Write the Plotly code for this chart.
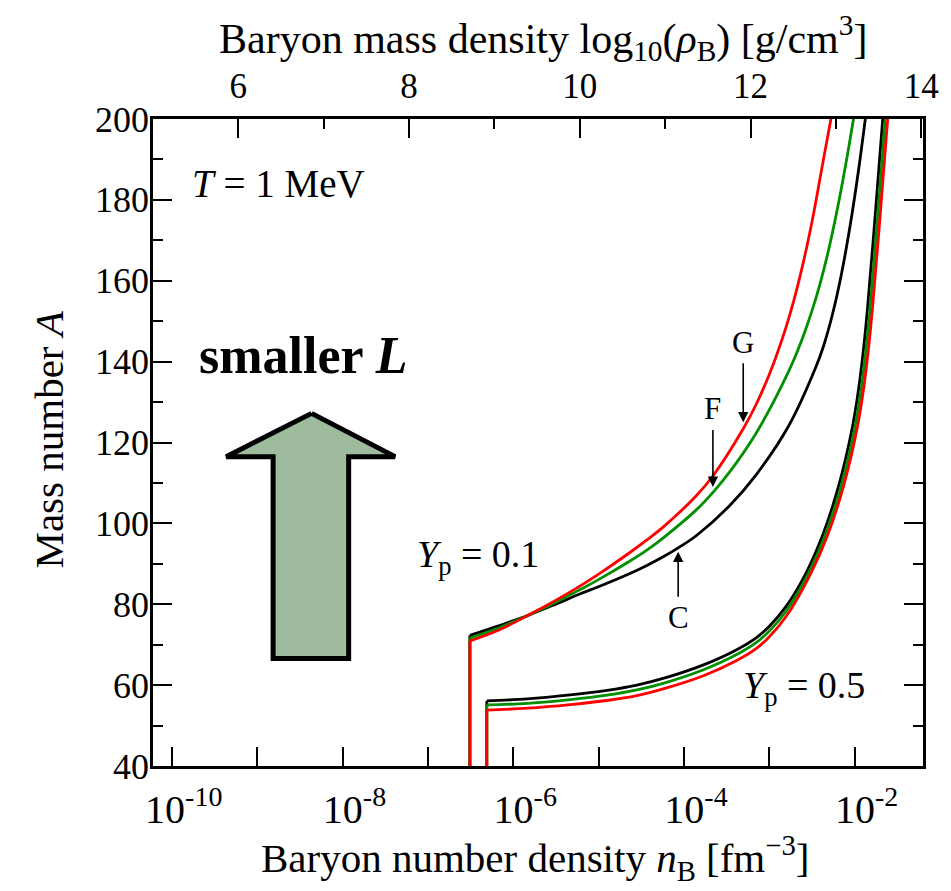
import plotly.graph_objects as go

# ---------------- data ----------------
# log10 of baryon number density n_B [fm^-3] and mass number A
# Y_p = 0.1 curves (C = black, F = green, G = red)
yp01_C_logn = [-6.508, -6.182, -5.832, -5.483, -5.215, -5.017, -4.633, -4.435, -4.238, -4.063, -3.853, -3.469,
               -3.155, -2.771, -2.456, -2.363, -2.258, -2.154, -2.049, -1.956, -1.874]
yp01_C_A    = [72.3, 74.6, 77.2, 80.2, 82.6, 84.2, 87.6, 89.6, 91.8, 94.0, 97.0, 104.3,
               112.0, 124.2, 138.6, 144.0, 151.9, 161.8, 174.2, 187.2, 200.3]
yp01_F_logn = [-6.508, -6.182, -5.832, -5.483, -5.215, -5.017, -4.633, -4.435, -4.238, -3.853, -3.655, -3.469,
               -3.155, -2.771, -2.631, -2.456, -2.340, -2.224, -2.107, -2.002]
yp01_F_A    = [71.6, 74.05, 77.2, 80.7, 83.65, 85.9, 90.7, 93.4, 96.5, 103.4, 107.8, 112.6,
               122.3, 137.7, 144.7, 155.6, 164.6, 175.6, 188.5, 201.6]
yp01_G_logn = [-6.508, -6.182, -5.832, -5.483, -5.215, -5.017, -4.633, -4.435, -4.238, -3.853, -3.655, -3.306,
               -3.155, -3.003, -2.922, -2.806, -2.712, -2.596, -2.491, -2.386, -2.270]
yp01_G_A    = [70.9, 73.5, 77.2, 81.2, 84.55, 87.2, 92.8, 95.9, 99.2, 106.9, 111.9, 123.4,
               129.4, 136.7, 141.2, 148.4, 155.2, 165.1, 175.6, 187.7, 201.0]

# Y_p = 0.5 curves
yp05_C_logn = [-6.310, -5.832, -5.332, -4.901, -4.552, -4.203, -3.772, -3.388, -3.155, -3.003, -2.806, -2.573,
               -2.375, -2.189, -2.026, -1.956, -1.898, -1.851, -1.758, -1.665]
yp05_C_A    = [56.1, 56.6, 57.6, 58.7, 60.0, 61.9, 65.0, 68.7, 71.7, 74.5, 79.4, 87.6,
               97.1, 109.2, 123.9, 133.0, 142.9, 153.0, 176.7, 201.8]
yp05_F_logn = [-6.310, -5.832, -5.332, -4.901, -4.552, -4.203, -3.772, -3.388, -3.155, -3.003, -2.806, -2.543,
               -2.345, -2.159, -1.996, -1.926, -1.868, -1.821, -1.728, -1.635]
yp05_F_A    = [55.1, 55.5, 56.4, 57.5, 58.8, 60.7, 63.8, 67.5, 70.5, 73.3, 78.2, 87.6,
               97.1, 109.2, 123.9, 133.0, 142.9, 153.0, 176.7, 201.8]
yp05_G_logn = [-6.310, -5.832, -5.332, -4.901, -4.552, -4.203, -3.772, -3.388, -3.155, -3.003, -2.806, -2.515,
               -2.317, -2.131, -1.968, -1.898, -1.840, -1.793, -1.700, -1.607]
yp05_G_A    = [53.8, 54.3, 55.2, 56.2, 57.4, 59.3, 62.3, 66.0, 69.0, 71.9, 76.9, 87.6,
               97.1, 109.2, 123.9, 133.0, 142.9, 153.0, 176.7, 201.8]

A_min = 40.0

x_tick_exps = list(range(-10, -1))
x_tick_text = [f"10<sup>{e}</sup>" if e % 2 == 0 else "" for e in x_tick_exps]
top_major = [6, 8, 10, 12, 14]
top_minor = [5, 7, 9, 11, 13]
y_major = list(range(40, 201, 20))
y_minor = list(range(50, 200, 20))
log_rho_offset = 15.22   # log10(m_u * 1e39 cm^-3) : n_B [fm^-3] -> rho [g/cm^3]

# big "smaller L" arrow outline (log10 n_B, A)
arrow_logn = [-8.362, -7.384, -7.928, -7.928, -8.813, -8.813, -9.363, -8.362]
arrow_A    = [127.2, 116.5, 116.5, 66.6, 66.6, 116.5, 116.5, 127.2]

# curve pointers: (label, log10 n_B at tip, A at tip, pixel offset of label)
pointers = [("G", -3.306, 125.0, -80), ("F", -3.661, 109.0, -78), ("C", -4.068, 93.0, 66)]

FONT = "Liberation Serif, Times New Roman, serif"
RED, GREEN, BLACK = "#ff0000", "#009000", "#000000"
LW = 2.8

fig = go.Figure()


def add_curve(logn, A, color):
    n = [10 ** v for v in logn]
    # vertical drop at the onset density
    fig.add_trace(go.Scatter(x=[n[0], n[0]], y=[A_min, A[0]], mode="lines",
                             line=dict(color=color, width=LW), showlegend=False, hoverinfo="skip"))
    fig.add_trace(go.Scatter(x=n, y=A, mode="lines",
                             line=dict(color=color, width=LW, shape="spline", smoothing=1.0),
                             showlegend=False))


for logn, A, c in [(yp01_C_logn, yp01_C_A, BLACK), (yp01_F_logn, yp01_F_A, GREEN), (yp01_G_logn, yp01_G_A, RED),
                   (yp05_C_logn, yp05_C_A, BLACK), (yp05_F_logn, yp05_F_A, GREEN), (yp05_G_logn, yp05_G_A, RED)]:
    add_curve(logn, A, c)

# big arrow
fig.add_trace(go.Scatter(x=[10 ** v for v in arrow_logn], y=arrow_A, mode="lines", fill="toself",
                         fillcolor="#9ebb9e", line=dict(color="black", width=5),
                         showlegend=False, hoverinfo="skip"))

# invisible trace to activate the top axis
fig.add_trace(go.Scatter(x=[5, 14], y=[A_min, A_min], xaxis="x2", mode="markers",
                         marker=dict(opacity=0), showlegend=False, hoverinfo="skip"))

xr = [-10.22, -1.20]
fig.update_layout(
    width=951, height=891,
    margin=dict(l=153, r=23, t=119, b=125),
    paper_bgcolor="white", plot_bgcolor="white",
    font=dict(family=FONT, size=36, color="black"),
    xaxis=dict(type="log", range=xr, tickvals=[10.0 ** e for e in x_tick_exps], ticktext=x_tick_text,
               ticks="inside", ticklen=19, tickwidth=2, tickcolor="black",
               showline=True, linecolor="black", linewidth=2.5, mirror=True,
               showgrid=False, zeroline=False, tickfont=dict(size=40), ticklabelstandoff=6,
               ticklabelshift=12),
    xaxis2=dict(overlaying="x", side="top", range=[xr[0] + log_rho_offset, xr[1] + log_rho_offset],
                tickvals=top_major, ticks="inside", ticklen=19, tickwidth=2, tickcolor="black",
                minor=dict(tickvals=top_minor, ticks="inside", ticklen=10, tickwidth=2, tickcolor="black"),
                showline=True, linecolor="black", linewidth=2.5, showgrid=False, zeroline=False,
                tickfont=dict(size=35), ticklabelstandoff=4, ticklabeloverflow="allow"),
    yaxis=dict(range=[40, 200], tickvals=y_major, ticks="inside", ticklen=19,
               tickwidth=2, tickcolor="black",
               minor=dict(tickvals=y_minor, ticks="inside", ticklen=10, tickwidth=2, tickcolor="black"),
               showline=True, linecolor="black", linewidth=2.5, mirror="ticks",
               showgrid=False, zeroline=False, tickfont=dict(size=36), ticklabelstandoff=-6),
)

annotations = [
    dict(text="Baryon number density <i>n</i><sub>B</sub> [fm<sup>−3</sup>]", x=0.4955, y=-0.142,
         xref="paper", yref="paper", showarrow=False, font=dict(size=41), xanchor="center", yanchor="middle"),
    dict(text="Baryon mass density log<sub>10</sub>(<i>ρ</i><sub>B</sub>) [g/cm<sup>3</sup>]", x=0.506, y=1.125,
         xref="paper", yref="paper", showarrow=False, font=dict(size=42), xanchor="center", yanchor="middle"),
    dict(text="Mass number <i>A</i>", x=-0.1355, y=0.504, xref="paper", yref="paper", textangle=-90,
         showarrow=False, font=dict(size=41), xanchor="center", yanchor="middle"),
    dict(text="<i>T</i> = 1 MeV", x=0.0477, y=0.901, xref="paper", yref="paper", showarrow=False,
         font=dict(size=39), xanchor="left", yanchor="middle"),
    dict(text="<b>smaller <i>L</i></b>", x=0.1948, y=0.6337, xref="paper", yref="paper", showarrow=False,
         font=dict(size=52), xanchor="center", yanchor="middle"),
    dict(text="<i>Y</i><sub>p</sub> = 0.1", x=0.4219, y=0.323, xref="paper", yref="paper", showarrow=False,
         font=dict(size=38), xanchor="center", yanchor="middle"),
    dict(text="<i>Y</i><sub>p</sub> = 0.5", x=0.845, y=0.1206, xref="paper", yref="paper", showarrow=False,
         font=dict(size=38), xanchor="center", yanchor="middle"),
]
for lab, lx, ly, off in pointers:
    annotations.append(dict(text=lab, x=lx, y=ly, xref="x", yref="y", showarrow=True, ax=0, ay=off,
                            arrowhead=2, arrowsize=1.3, arrowwidth=1.6, arrowcolor="black",
                            font=dict(size=31), standoff=0, startstandoff=2))
fig.update_layout(annotations=annotations)

# remove the default page margin so the 951x891 figure fills the window exactly
fig.write_html("out.html", config={"displayModeBar": False},
               post_script="document.body.style.margin='0px';")
